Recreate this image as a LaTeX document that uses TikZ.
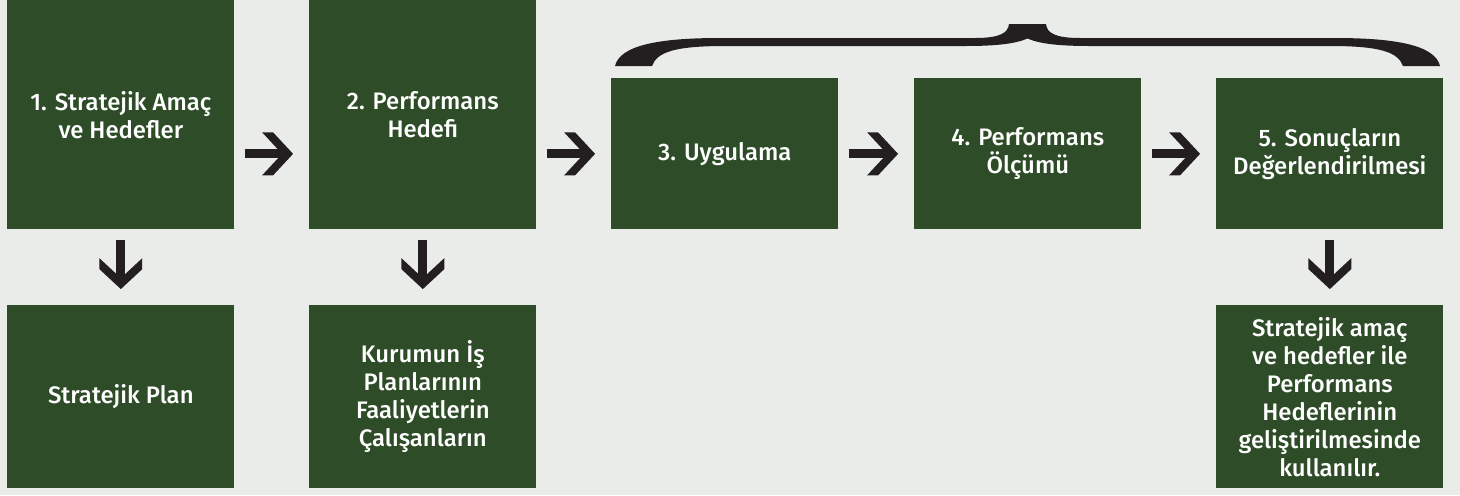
\documentclass[tikz,border=0pt]{standalone}
\usepackage{fontspec}
\setmainfont{Fira Sans}[UprightFont={* Medium}]
\definecolor{bg}{HTML}{EAECE9}
\definecolor{boxgreen}{HTML}{2D4C27}
\definecolor{ink}{HTML}{231F20}
\tikzset{
  box/.style={fill=boxgreen, text=white, inner sep=0pt, anchor=north west,
    minimum width=4.54cm, align=center,
    font=\fontsize{13.6pt}{15.9pt}\selectfont},
  tall/.style={box, minimum height=4.58cm},
  mid/.style={box, minimum height=3.02cm},
  low/.style={box, minimum height=3.66cm},
  shaft/.style={draw=ink, line width=5.1pt, line cap=butt,
    shorten <=5.67pt, shorten >=14.7pt},
  chevhead/.pic={
    \fill[ink] (0pt,0pt) -- (-11.34pt,12.19pt) -- (-17.57pt,12.19pt)
      -- (-6.24pt,0pt) -- (-17.57pt,-12.19pt) -- (-11.34pt,-12.19pt) -- cycle;
  }
}
\begin{document}
\begin{tikzpicture}[x=0.02cm, y=-0.02cm]
\fill[bg] (0,0) rectangle (1460,495);
\useasboundingbox (0,0) rectangle (1460,495);
% top row
\node[tall] (b1) at (7,0) {1. Stratejik Amaç\\ve Hedefler};
\node[tall] (b2) at (309,0) {2. Performans\\Hedefi};
\node[mid] (b3) at (611,78) {3. Uygulama};
\node[mid] (b4) at (914,78) {4. Performans\\Ölçümü};
\node[mid] (b5) at (1216,78) {5. Sonuçların\\Değerlendirilmesi};
% bottom row
\node[low] (s1) at (7,305) {Stratejik Plan};
\node[low] (s2) at (309,305) {Kurumun İş\\Planlarının\\Faaliyetlerin\\Çalışanların};
\node[low] (s5) at (1216,305) {Stratejik amaç\\ve hedefler ile\\Performans\\Hedeflerinin\\geliştirilmesinde\\kullanılır.};
% horizontal arrows
\coordinate (r1) at (b1.east |- b3.center);
\coordinate (r2) at (b2.west |- b3.center);
\coordinate (r3) at (b2.east |- b3.center);
\draw[shaft] (r1) -- (r2);
\pic at ([xshift=-9.07pt]r2) {chevhead};
\draw[shaft] (r3) -- (b3.west);
\pic at ([xshift=-9.07pt]b3.west) {chevhead};
\draw[shaft] (b3.east) -- (b4.west);
\pic at ([xshift=-9.07pt]b4.west) {chevhead};
\draw[shaft] (b4.east) -- (b5.west);
\pic at ([xshift=-9.07pt]b5.west) {chevhead};
% vertical arrows
\draw[shaft] (b1.south) -- (s1.north);
\pic[rotate=-90] at ([yshift=9.07pt]s1.north) {chevhead};
\draw[shaft] (b2.south) -- (s2.north);
\pic[rotate=-90] at ([yshift=9.07pt]s2.north) {chevhead};
\draw[shaft] (b5.south) -- (s5.north);
\pic[rotate=-90] at ([yshift=9.07pt]s5.north) {chevhead};
% brace over steps 3-5
\fill[ink] (615,66) .. controls (620,45) and (660,38) .. (720,38)
  -- (975,38) .. controls (1000,38) and (1008,33) .. (1009,24)
  -- (1046,24) .. controls (1047,33) and (1055,38) .. (1080,38)
  -- (1335,38) .. controls (1395,38) and (1435,45) .. (1440,66)
  -- (1403,66) .. controls (1398,52) and (1380,46) .. (1330,46)
  -- (1090,46) .. controls (1060,46) and (1040,44) .. (1027.5,38.5)
  .. controls (1015,44) and (995,46) .. (965,46)
  -- (725,46) .. controls (675,46) and (657,52) .. (652,66)
  -- cycle;
\end{tikzpicture}
\end{document}
